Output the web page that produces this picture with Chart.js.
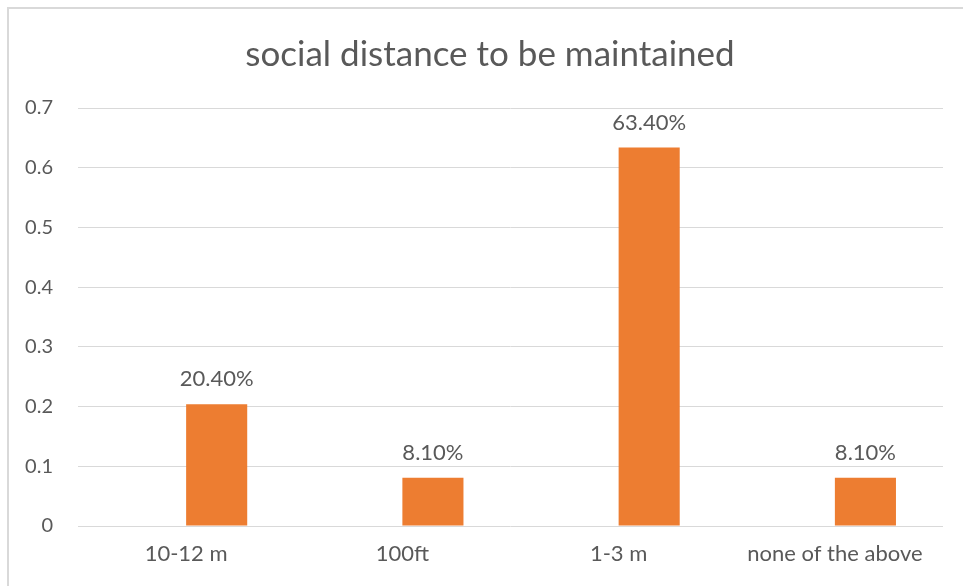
<!DOCTYPE html>
<html>
<head>
<meta charset="utf-8">
<script src="https://cdn.jsdelivr.net/npm/chart.js@4/dist/chart.umd.min.js"></script>
<style>
  html, body { margin: 0; padding: 0; background: #fff; overflow: hidden; }
  #wrap { position: relative; width: 963px; height: 586px; }
  #frame {
    position: absolute; left: 7px; top: 7px; width: 1000px; height: 700px;
    border: 2px solid #d9d9d9; box-sizing: border-box;
  }
  canvas { position: absolute; left: 0; top: 0; }
</style>
</head>
<body>
<div id="wrap">
  <div id="frame"></div>
  <canvas id="myChart" width="963" height="586"></canvas>
</div>
<script>
// categories and answer shares
const categories = ['10-12 m', '100ft', '1-3 m', 'none of the above'];
const shares = [0.204, 0.081, 0.634, 0.081];
const blanks = [null, null, null, null]; // empty first series, pushes bars right of centre
const yTicks = [0, 0.1, 0.2, 0.3, 0.4, 0.5, 0.6, 0.7];
const chartTitle = 'social distance to be maintained';

const textColor = '#595959';
const fontFamily = 'Lato, "Open Sans", sans-serif';

// title centred on the frame, not on the canvas
const titleText = {
  id: 'titleText',
  afterDraw(chart) {
    const ctx = chart.ctx;
    ctx.save();
    ctx.fillStyle = textColor;
    ctx.font = '35px ' + fontFamily;
    ctx.textAlign = 'center';
    ctx.textBaseline = 'middle';
    ctx.fillText(chartTitle, 490, 55);
    ctx.restore();
  }
};

// percentage labels above the bars
const barLabels = {
  id: 'barLabels',
  afterDatasetsDraw(chart) {
    const ctx = chart.ctx;
    const meta = chart.getDatasetMeta(1);
    ctx.save();
    ctx.fillStyle = textColor;
    ctx.font = '22px ' + fontFamily;
    ctx.textAlign = 'center';
    ctx.textBaseline = 'middle';
    meta.data.forEach((bar, i) => {
      ctx.fillText((shares[i] * 100).toFixed(2) + '%', bar.x, bar.y - 25);
    });
    ctx.restore();
  }
};

new Chart(document.getElementById('myChart'), {
  type: 'bar',
  data: {
    labels: categories,
    datasets: [
      { label: '', data: blanks, backgroundColor: '#4472c4' },
      { label: 'social distance', data: shares, backgroundColor: '#ed7d31' }
    ]
  },
  options: {
    responsive: false,
    animation: false,
    events: [],
    layout: { padding: { left: 0, right: 20, top: 108, bottom: 0 } },
    datasets: { bar: { categoryPercentage: 0.565, barPercentage: 1.0 } },
    plugins: {
      legend: { display: false },
      tooltip: { enabled: false },
      title: { display: false }
    },
    scales: {
      x: {
        grid: { display: false },
        border: { display: false },
        afterFit(axis) { axis.height = 60; },
        ticks: {
          color: textColor,
          font: { family: fontFamily, size: 22 },
          padding: 7,
          maxRotation: 0
        }
      },
      y: {
        min: 0,
        max: 0.7,
        afterBuildTicks(axis) {
          axis.ticks = yTicks.map(v => ({ value: v }));
        },
        afterFit(axis) { axis.width = 78; },
        grid: { color: '#d9d9d9', lineWidth: 1, drawTicks: false },
        border: { display: false },
        ticks: {
          color: textColor,
          font: { family: fontFamily, size: 20 },
          padding: 25,
          callback: v => String(+v.toFixed(1))
        }
      }
    }
  },
  plugins: [barLabels, titleText]
});
</script>
</body>
</html>
